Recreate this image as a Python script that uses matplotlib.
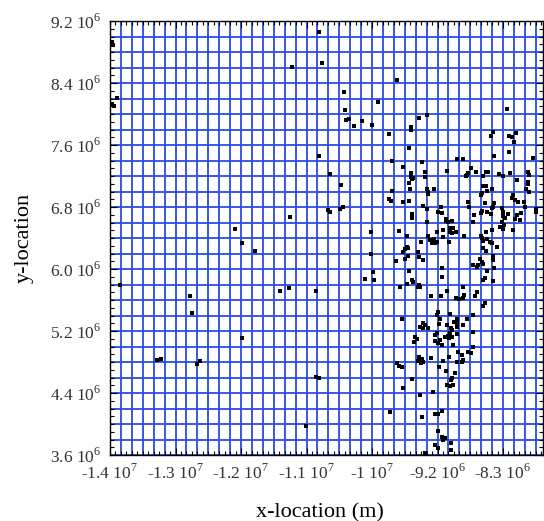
import numpy as np
import matplotlib.pyplot as plt

plt.rcParams['font.family'] = 'Liberation Serif'
plt.rcParams['mathtext.fontset'] = 'custom'
plt.rcParams['mathtext.rm'] = 'Liberation Serif'

# point locations (x, y) in units of 1e6 m
west = [(-13.964, 8.929), (-13.949, 8.890), (-13.891, 8.206), (-13.964, 8.129), (-13.942, 8.103),
        (-10.953, 9.058), (-11.346, 8.606), (-10.909, 8.658), (-10.588, 8.284), (-10.574, 8.052),
        (-10.559, 7.923), (-10.515, 7.936), (-10.442, 7.845), (-10.326, 7.910), (-13.854, 5.794),
        (-12.178, 6.516), (-12.075, 6.335), (-11.886, 6.232), (-11.376, 6.671), (-10.822, 6.761),
        (-10.792, 6.735), (-10.953, 7.458), (-10.792, 7.226), (-10.632, 7.084), (-10.603, 6.800),
        (-10.647, 6.774), (-11.521, 5.716), (-11.390, 5.755), (-10.997, 5.716), (-12.834, 5.652),
        (-12.804, 5.432), (-12.075, 5.110), (-13.315, 4.826), (-13.256, 4.839), (-12.732, 4.774),
        (-12.688, 4.813), (-10.997, 4.606), (-10.953, 4.594), (-11.142, 3.974), (-9.815, 8.439)]

north_west = [(-10.093, 8.158), (-10.180, 7.858), (-9.932, 7.738), (-9.616, 7.828), (-9.616, 7.797),
              (-9.490, 7.952), (-9.383, 7.987), (-9.645, 7.565), (-9.884, 7.393), (-9.724, 7.316),
              (-9.455, 7.376), (-9.407, 7.255), (-9.091, 7.268), (-9.616, 7.235), (-9.616, 7.191),
              (-9.578, 7.178), (-9.601, 7.161), (-9.407, 7.191), (-9.645, 7.113), (-9.626, 7.036),
              (-9.383, 7.032), (-9.359, 6.997), (-9.359, 6.964), (-9.280, 7.032), (-9.884, 7.002),
              (-9.932, 6.899), (-9.907, 6.877), (-9.724, 6.864), (-9.645, 6.881), (-9.436, 6.809),
              (-9.383, 6.770), (-9.174, 6.800), (-9.222, 6.739), (-9.159, 6.726), (-9.597, 6.709),
              (-9.597, 6.662), (-9.101, 6.645)]

north_east = [(-8.216, 8.064), (-8.420, 7.771), (-8.449, 7.720), (-8.183, 7.720), (-8.139, 7.703),
              (-8.081, 7.754), (-8.114, 7.642), (-8.397, 7.454), (-8.183, 7.505), (-8.945, 7.415),
              (-8.849, 7.415), (-7.828, 7.428), (-8.732, 7.307), (-8.664, 7.255), (-8.776, 7.235),
              (-8.810, 7.196), (-8.791, 7.213), (-8.518, 7.255), (-8.484, 7.255), (-8.557, 7.196),
              (-8.324, 7.225), (-8.266, 7.200), (-8.168, 7.238), (-7.901, 7.255), (-7.887, 7.213),
              (-8.062, 7.144), (-7.906, 7.126), (-7.906, 7.093), (-8.557, 7.071), (-8.518, 7.071),
              (-8.435, 7.036), (-8.499, 7.006), (-8.581, 6.976), (-8.595, 6.955), (-7.935, 7.028),
              (-7.895, 6.997), (-8.120, 6.955), (-8.139, 6.912), (-8.095, 6.890), (-8.776, 6.868),
              (-8.761, 6.800), (-8.533, 6.847), (-8.401, 6.847), (-8.411, 6.804), (-8.047, 6.860),
              (-7.964, 6.868), (-7.945, 6.804), (-7.789, 6.774), (-7.789, 6.739), (-8.697, 6.696),
              (-8.581, 6.748), (-8.595, 6.718), (-8.508, 6.739), (-8.449, 6.705), (-8.435, 6.783),
              (-8.289, 6.783), (-8.274, 6.731), (-8.266, 6.684), (-8.202, 6.705), (-8.070, 6.696),
              (-8.008, 6.718)]

centre_west = [(-9.601, 6.675), (-9.383, 6.602), (-9.101, 6.623), (-9.068, 6.610), (-9.018, 6.619),
               (-10.199, 6.481), (-9.791, 6.494), (-9.674, 6.429), (-9.228, 6.481), (-9.149, 6.503),
               (-9.043, 6.525), (-9.043, 6.481), (-9.359, 6.429), (-9.141, 6.416), (-9.334, 6.374),
               (-9.310, 6.331), (-9.276, 6.387), (-9.237, 6.352), (-9.257, 6.335), (-9.466, 6.352),
               (-9.053, 6.352), (-9.674, 6.287), (-9.699, 6.258), (-9.651, 6.267), (-9.724, 6.223),
               (-9.509, 6.215), (-10.199, 6.193), (-9.651, 6.167), (-9.699, 6.133), (-9.495, 6.151),
               (-9.432, 6.116), (-9.830, 6.107), (-9.164, 6.009), (-9.645, 5.978), (-10.161, 5.961),
               (-9.155, 5.900), (-10.286, 5.871), (-10.147, 5.858), (-9.601, 5.858), (-9.578, 5.836),
               (-9.674, 5.806), (-9.499, 5.793), (-9.476, 5.771), (-9.509, 5.771), (-9.772, 5.764),
               (-9.082, 5.716), (-9.320, 5.655), (-9.174, 5.655), (-9.213, 5.441), (-9.237, 5.406),
               (-9.043, 5.423), (-9.747, 5.355), (-9.189, 5.355), (-8.985, 5.320), (-9.441, 5.299),
               (-9.407, 5.277), (-9.480, 5.256), (-9.432, 5.242), (-9.199, 5.286), (-9.082, 5.277),
               (-9.033, 5.235), (-9.359, 5.235), (-9.043, 5.170), (-9.068, 5.139), (-9.237, 5.170),
               (-9.262, 5.148), (-9.553, 5.126)]

centre_east = [(-8.703, 6.602), (-8.995, 6.525), (-8.955, 6.481), (-9.018, 6.460), (-8.839, 6.429),
               (-8.289, 6.610), (-8.255, 6.567), (-8.314, 6.546), (-8.266, 6.516), (-8.241, 6.654),
               (-8.095, 6.645), (-8.120, 6.503), (-8.022, 6.636), (-8.518, 6.473), (-8.435, 6.503),
               (-8.595, 6.429), (-8.581, 6.396), (-8.557, 6.361), (-8.508, 6.387), (-8.460, 6.352),
               (-8.435, 6.331), (-8.362, 6.287), (-8.557, 6.267), (-8.518, 6.232), (-8.411, 6.171),
               (-8.411, 6.116), (-8.605, 6.129), (-8.581, 6.094), (-8.630, 6.051), (-8.654, 6.029),
               (-8.703, 6.051), (-8.557, 6.060), (-8.401, 6.009), (-8.508, 5.974), (-8.533, 5.880),
               (-8.557, 5.858), (-8.411, 5.845), (-8.858, 5.771), (-8.654, 5.707), (-8.679, 5.655),
               (-8.839, 5.664), (-8.858, 5.622), (-8.907, 5.613), (-8.955, 5.630), (-8.533, 5.557),
               (-8.566, 5.526), (-8.703, 5.406), (-8.799, 5.355), (-8.945, 5.355), (-8.970, 5.312),
               (-8.936, 5.299), (-8.858, 5.277), (-8.936, 5.256), (-9.018, 5.213), (-8.703, 5.183),
               (-8.945, 5.161), (-9.018, 5.126)]

south = [(-9.528, 5.097), (-9.568, 5.062), (-9.262, 5.071), (-9.213, 5.045), (-9.164, 5.019),
         (-9.189, 5.084), (-9.116, 5.126), (-9.053, 5.113), (-8.995, 5.019), (-9.490, 4.868),
         (-9.455, 4.839), (-9.505, 4.813), (-9.432, 4.804), (-9.470, 4.783), (-9.320, 4.855),
         (-9.141, 4.813), (-9.053, 4.868), (-9.820, 4.783), (-9.782, 4.752), (-9.738, 4.732),
         (-9.199, 4.732), (-9.101, 4.684), (-9.018, 4.597), (-9.033, 4.568), (-9.601, 4.577),
         (-9.724, 4.468), (-9.082, 4.503), (-9.043, 4.490), (-9.295, 4.417), (-9.480, 4.374),
         (-9.918, 4.159), (-9.451, 4.094), (-9.262, 4.125), (-9.213, 4.125), (-9.155, 4.168),
         (-9.213, 3.910), (-9.164, 3.836), (-9.141, 3.794), (-9.116, 3.815), (-9.033, 3.751),
         (-9.262, 3.729), (-9.213, 3.694), (-9.033, 3.665), (-9.407, 3.622), (-8.922, 4.925),
         (-8.872, 4.890), (-8.849, 4.826), (-8.945, 4.804), (-8.863, 4.804), (-8.776, 4.925),
         (-8.741, 4.912), (-8.703, 4.997), (-8.970, 4.654), (-8.995, 4.503)]

x_ticks = [-14.0, -13.045, -12.09, -11.135, -10.18, -9.225, -8.27]
x_tick_labels = ['-1.4 10$^{7}$', '-1.3 10$^{7}$', '-1.2 10$^{7}$', '-1.1 10$^{7}$',
                 '-1 10$^{7}$', '-9.2 10$^{6}$', '-8.3 10$^{6}$']
y_ticks = [3.6, 4.4, 5.2, 6.0, 6.8, 7.6, 8.4, 9.2]
y_tick_labels = ['3.6 10$^{6}$', '4.4 10$^{6}$', '5.2 10$^{6}$', '6.0 10$^{6}$',
                 '6.8 10$^{6}$', '7.6 10$^{6}$', '8.4 10$^{6}$', '9.2 10$^{6}$']

pts = np.array(west + north_west + north_east + centre_west + centre_east + south) * 1e6

fig = plt.figure(figsize=(5.44, 5.21), dpi=100)
ax = fig.add_axes([110 / 544, 66 / 521, 433 / 544, 434 / 521])
xmin, xmax = -14.0e6, -7.687e6
ymin, ymax = 3.6e6, 9.2e6
dx = (x_ticks[1] - x_ticks[0]) * 1e6

# blue grid
for gx in np.arange(xmin, xmax, dx / 6):
    ax.axvline(gx, color='#2b4ae0', lw=1.3, zorder=1)
for gy in np.arange(ymin, ymax + 1, 0.2e6):
    ax.axhline(gy, color='#2b4ae0', lw=1.3, zorder=1)

ax.plot(pts[:, 0], pts[:, 1], 's', color='black', ms=3.5, mew=0, zorder=3)

ax.set_xlim(xmin, xmax)
ax.set_ylim(ymin, ymax)
ax.set_xticks(np.array(x_ticks) * 1e6)
ax.set_xticklabels(x_tick_labels)
ax.set_yticks(np.array(y_ticks) * 1e6)
ax.set_yticklabels(y_tick_labels)
ax.set_xticks(np.arange(xmin, xmax, dx / 12), minor=True)
ax.set_yticks(np.arange(ymin, ymax + 1, 0.1e6), minor=True)
ax.tick_params(which='both', direction='in', top=True, right=True, width=0.8,
               labelsize=12.5, labelcolor='#333333', pad=6)
ax.tick_params(which='major', length=5)
ax.tick_params(which='minor', length=3)
for s in ax.spines.values():
    s.set_linewidth(1.0)
    s.set_zorder(4)

ax.set_xlabel('x-location (m)', fontsize=16)
ax.set_ylabel('y-location', fontsize=16)
ax.xaxis.set_label_coords(0.485, -0.11)
ax.yaxis.set_label_coords(-0.176, 0.5)

fig.savefig('out.png', dpi=100)
